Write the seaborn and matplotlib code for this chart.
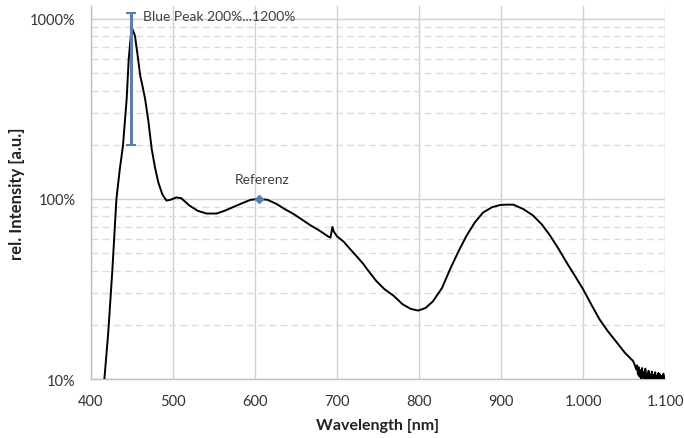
import matplotlib
matplotlib.use("Agg")
import matplotlib.pyplot as plt
import matplotlib.ticker as mticker
import seaborn as sns
import pandas as pd

# ---- data ----
wavelength = [416, 421, 426, 431, 435, 439, 443.5, 446, 449.6, 453.6, 457, 460, 463, 466, 470,
              474, 478, 482, 487, 492, 497, 504, 510, 520, 530, 541, 553, 563, 573, 585,
              595, 605, 615, 626, 636, 647, 657, 667, 678, 689, 692, 694.5, 696, 700, 708,
              716, 724, 732, 738, 748, 758, 769, 780, 790, 799, 808, 817, 828, 838, 848,
              858, 868, 878, 889, 899, 907, 915, 927, 939, 950, 960, 970, 980, 990, 1000,
              1010, 1020, 1030, 1041, 1051, 1058, 1061, 1063, 1065, 1066, 1067, 1068, 1069,
              1070, 1071, 1072, 1073, 1074, 1075, 1076, 1077, 1078, 1079, 1080, 1081, 1082,
              1083, 1084, 1085, 1086, 1087, 1088, 1089, 1090, 1091, 1092, 1093, 1094, 1095,
              1096, 1097, 1098, 1099, 1100]
intensity = [9.6, 18, 40, 100, 145, 198, 360, 600, 900, 807, 620, 484, 420, 359, 270,
             190, 150, 124, 106, 98, 99, 102, 101, 92, 86, 83, 83, 86, 90, 95,
             99, 100, 99, 94, 88, 82.5, 77, 71.7, 67, 62, 61, 70, 66, 62, 58,
             52.7, 48, 43.6, 40, 35, 31.5, 29, 26, 24.5, 24, 24.8, 27, 32, 40.8, 51,
             62.5, 74, 84, 90, 92.6, 93, 93, 88, 81, 72, 62.5, 53, 44.4, 37.5, 31.6,
             26, 21.5, 18.5, 16, 14, 13.0, 12.6, 12.0, 11.3, 11.9, 10.6, 11.6, 10.3,
             11.2, 10.0, 11.5, 10.2, 10.9, 9.8, 11.4, 10.1, 10.7, 9.9, 11.1, 10.0, 10.6,
             9.8, 11.0, 10.1, 10.5, 9.9, 10.9, 10.0, 10.4, 9.8, 10.8, 10.0, 10.6, 9.9,
             10.4, 9.9, 10.7, 9.9, 10.3]

peak_x = 449
peak_low = 200
peak_high = 1080
ref_x = 605
ref_y = 100

x_ticks = [400, 500, 600, 700, 800, 900, 1000, 1100]
x_tick_labels = ["400", "500", "600", "700", "800", "900", "1.000", "1.100"]
y_ticks = [10, 100, 1000]
y_tick_labels = ["10%", "100%", "1000%"]

# ---- styling ----
sns.set_style("whitegrid")
plt.rcParams["font.family"] = ["Lato", "DejaVu Sans"]

fig = plt.figure(figsize=(6.84, 4.39), dpi=100)
ax = fig.add_axes([91 / 684, 1 - 380 / 439, (665 - 91) / 684, (380 - 7) / 439])

df = pd.DataFrame({"Wavelength": wavelength, "Intensity": intensity})
sns.lineplot(data=df, x="Wavelength", y="Intensity", ax=ax, color="black",
             linewidth=1.4, zorder=3)

blue = "#4f81bd"
mid = (peak_low * peak_high) ** 0.5
ax.errorbar([peak_x], [mid], yerr=[[mid - peak_low], [peak_high - mid]],
            fmt="none", ecolor=blue, elinewidth=2.2, capsize=3.5, capthick=1.5,
            zorder=4)
ax.plot([ref_x], [ref_y], marker="D", markersize=4, color=blue, zorder=5,
        linestyle="none")

ax.text(463.5, 1040, "Blue Peak 200%...1200%", fontsize=10, color="#404040",
        va="center", ha="left")
ax.text(609, 129, "Referenz", fontsize=10, color="#404040", va="center",
        ha="center")

ax.set_yscale("log")
ax.set_xlim(400, 1100)
ax.set_ylim(10, 1180)

ax.set_xticks(x_ticks)
ax.set_xticklabels(x_tick_labels)
ax.yaxis.set_major_locator(mticker.FixedLocator(y_ticks))
ax.set_yticklabels(y_tick_labels)
ax.yaxis.set_minor_locator(mticker.LogLocator(base=10, subs=range(2, 10)))
ax.yaxis.set_minor_formatter(mticker.NullFormatter())

ax.grid(which="major", axis="both", color="#d0d0d0", linewidth=1.0, linestyle="-")
ax.grid(which="minor", axis="y", color="#dcdcdc", linewidth=1.0,
        linestyle=(0, (5, 3)))
ax.tick_params(axis="both", which="both", length=0, labelsize=10.5,
               labelcolor="#333333")
ax.tick_params(axis="x", pad=11)
ax.tick_params(axis="y", pad=11)

for s in ["top", "right"]:
    ax.spines[s].set_visible(False)
for s in ["left", "bottom"]:
    ax.spines[s].set_color("#c0c0c0")
    ax.spines[s].set_linewidth(1.0)

ax.set_xlabel("Wavelength [nm]", fontsize=11.5, fontweight="bold", color="#222222",
              labelpad=7)
ax.set_ylabel("rel. Intensity [a.u.]", fontsize=12, fontweight="bold",
              color="#222222", labelpad=4)

fig.savefig("out.png", dpi=100)
